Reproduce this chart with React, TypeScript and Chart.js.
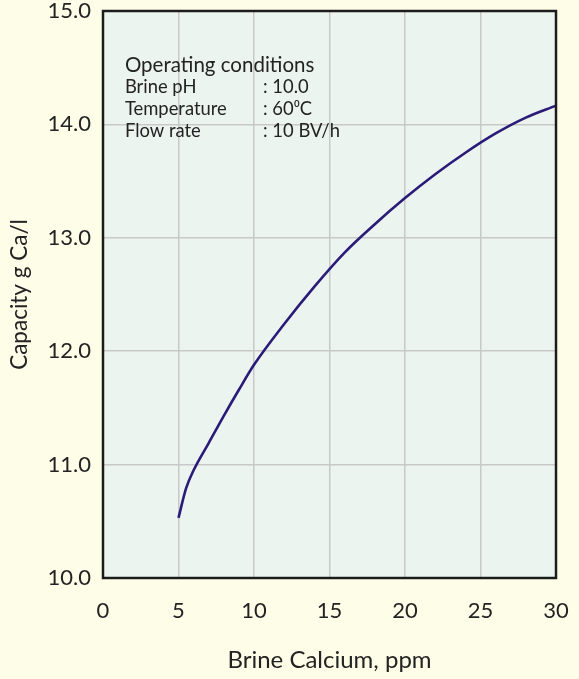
import React, { useEffect, useRef } from "react";
import { Chart, registerables } from "chart.js";

Chart.register(...registerables);

// Data
const calciumPpm = [5, 5.5, 6, 7, 8, 9, 10, 12, 14, 16, 18, 20, 22, 24, 26, 28, 30];
const capacityGCaL = [10.53, 10.79, 10.95, 11.19, 11.43, 11.66, 11.88, 12.24, 12.57, 12.87, 13.12, 13.35, 13.56, 13.75, 13.92, 14.06, 14.165];

const xTickValues = [0, 5, 10, 15, 20, 25, 30];
const yTickValues = [10, 11, 12, 13, 14, 15];

const conditionTitle = "Operating conditions";
const conditionNames = ["Brine pH", "Temperature", "Flow rate"];
const conditionValues = [": 10.0", ": 60\u2070C", ": 10 BV/h"];

const xTitle = "Brine Calcium, ppm";
const yTitle = "Capacity g Ca/l";

const FONT = "Lato, 'Open Sans', sans-serif";
const TEXT = "#232323";
const PAGE_BG = "#fefde8";
const PLOT_BG = "#ecf4f0";

const framePlugin = {
  id: "frame",
  beforeDraw(chart: any) {
    const { ctx, chartArea: a } = chart;
    ctx.save();
    ctx.fillStyle = PLOT_BG;
    ctx.fillRect(a.left, a.top, a.right - a.left, a.bottom - a.top);
    ctx.restore();
  },
  afterDraw(chart: any) {
    const { ctx, chartArea: a, scales } = chart;
    ctx.save();
    ctx.strokeStyle = "#1c1c1c";
    ctx.lineWidth = 2.5;
    ctx.strokeRect(a.left, a.top, a.right - a.left, a.bottom - a.top);

    // operating conditions annotation
    const x0 = scales.x.getPixelForValue(1.45);
    const x1 = scales.x.getPixelForValue(10.6);
    let y = scales.y.getPixelForValue(14.52);
    const step = 22;
    ctx.fillStyle = TEXT;
    ctx.textBaseline = "middle";
    ctx.textAlign = "left";
    ctx.font = `20.5px ${FONT}`;
    ctx.fillText(conditionTitle, x0, y);
    ctx.font = `18.4px ${FONT}`;
    for (let i = 0; i < conditionNames.length; i++) {
      y += step;
      ctx.fillText(conditionNames[i], x0, y);
      ctx.fillText(conditionValues[i], x1, y);
    }
    ctx.restore();
  },
};

export default function App() {
  const ref = useRef<HTMLCanvasElement>(null);

  useEffect(() => {
    document.body.style.background = PAGE_BG;
    const canvas = ref.current;
    if (!canvas) return;
    const chart = new Chart(canvas, {
      type: "scatter",
      data: {
        datasets: [
          {
            data: calciumPpm.map((x, i) => ({ x, y: capacityGCaL[i] })),
            showLine: true,
            borderColor: "#2a1b78",
            borderWidth: 2.6,
            pointRadius: 0,
            cubicInterpolationMode: "monotone",
            fill: false,
          },
        ],
      },
      options: {
        animation: false,
        responsive: true,
        maintainAspectRatio: false,
        layout: { padding: { top: 11, right: 23, left: 0, bottom: 0 } },
        plugins: { legend: { display: false }, tooltip: { enabled: false } },
        scales: {
          x: {
            type: "linear",
            min: 0,
            max: 30,
            afterBuildTicks: (s: any) => {
              s.ticks = xTickValues.map((v) => ({ value: v }));
            },
            afterFit: (s: any) => {
              s.height = 101;
            },
            grid: {
              color: "#c8c8c8",
              lineWidth: 1.5,
              drawTicks: true,
              tickLength: 22,
              tickColor: "rgba(0,0,0,0)",
              tickWidth: 0,
            },
            border: { display: false },
            ticks: {
              padding: 0,
              color: TEXT,
              font: { family: FONT, size: 22, lineHeight: 1 },
              callback: (v: any) => String(v),
            },
            title: {
              display: true,
              text: xTitle,
              color: TEXT,
              font: { family: FONT, size: 24, lineHeight: 1.2 },
              padding: { top: 0, bottom: 4 },
            },
          },
          y: {
            type: "linear",
            min: 10,
            max: 15,
            afterBuildTicks: (s: any) => {
              s.ticks = yTickValues.map((v) => ({ value: v }));
            },
            afterFit: (s: any) => {
              s.width = 103;
            },
            grid: {
              color: "#c8c8c8",
              lineWidth: 1.5,
              drawTicks: true,
              tickLength: 12,
              tickColor: "rgba(0,0,0,0)",
              tickWidth: 0,
            },
            border: { display: false },
            ticks: {
              padding: 0,
              color: TEXT,
              font: { family: FONT, size: 22, lineHeight: 1 },
              callback: (v: any) => Number(v).toFixed(1),
            },
            title: {
              display: true,
              text: yTitle,
              color: TEXT,
              font: { family: FONT, size: 22.5, lineHeight: 1.2 },
              padding: { top: 6.5, bottom: 0 },
            },
          },
        },
      },
      plugins: [framePlugin],
    } as any);
    return () => chart.destroy();
  }, []);

  return (
    <div
      style={{
        position: "fixed",
        left: 0,
        top: 0,
        width: 579,
        height: 679,
        background: PAGE_BG,
      }}
    >
      <canvas ref={ref} />
    </div>
  );
}
